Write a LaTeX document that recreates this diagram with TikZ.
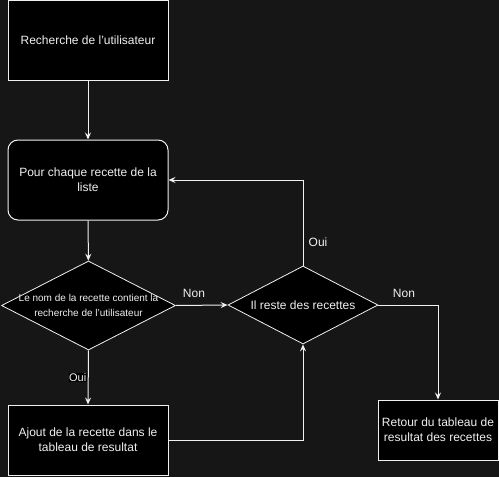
\documentclass[tikz,border=0pt]{standalone}
\usepackage{fontspec}
\setmainfont{Liberation Sans}
\usetikzlibrary{shapes.geometric,arrows.meta}
\definecolor{bg}{RGB}{22,22,22}
\definecolor{fg}{RGB}{240,240,240}
\tikzset{
  box/.style={draw=fg, fill=black, text=fg, line width=1pt, align=center, inner sep=0pt, font=\fontsize{12}{15}\selectfont},
  dia/.style={draw=fg, fill=black, diamond, line width=0.8pt, inner sep=0pt},
  txt/.style={text=fg, align=center, inner sep=0pt},
  lbl/.style={text=fg, inner sep=1pt, font=\fontsize{12}{14}\selectfont},
  arr/.style={draw=fg, line width=1pt, -{Stealth[length=7pt,width=6pt,inset=2.5pt]}},
}
\begin{document}
\begin{tikzpicture}[x=1pt,y=-1pt]
\fill[bg] (0,0) rectangle (499,477);
\useasboundingbox (0,0) rectangle (499,477);

\node[box, minimum width=160, minimum height=80] (b1) at (88,40) {Recherche de l'utilisateur};
\node[box, rounded corners=10pt, minimum width=160, minimum height=80] (b2) at (88,180) {Pour chaque recette de la\\liste};
\node[dia, minimum width=174, minimum height=89] (d1) at (88.5,305.5) {};
\node[txt, font=\fontsize{10}{14.5}\selectfont] (t1) at (d1) {Le nom de la recette contient la\\recherche de l'utilisateur};
\node[box, minimum width=160, minimum height=70] (b3) at (88,440) {Ajout de la recette dans le\\tableau de resultat};
\node[dia, minimum width=150, minimum height=78] (d2) at (303,305) {};
\node[txt, font=\fontsize{12}{15}\selectfont] (t2) at (d2) {Il reste des recettes};
\node[box, minimum width=120, minimum height=60] (b4) at (438,430) {Retour du tableau de\\resultat des recettes};

\draw[arr] (b1) -- (b2);
\draw[arr] (b2) -- (d1);
\draw[arr] (d1.south) -- (b3.north) node[pos=0.5, lbl, fill=black, font=\fontsize{11}{13}\selectfont, anchor=east, inner sep=0.5pt, xshift=-1pt] (l1) {Oui};
\draw[arr] (d1.east) -- (d2.west);
\node[lbl] (l2) at (194,293) {Non};
\draw[arr] (b3.east) -| (d2.south);
\draw[arr] (d2.north) |- (b2.east);
\node[lbl] (l3) at (318,242) {Oui};
\draw[arr] (d2.east) -| (b4.north);
\node[lbl] (l4) at (404,293) {Non};
\end{tikzpicture}
\end{document}
